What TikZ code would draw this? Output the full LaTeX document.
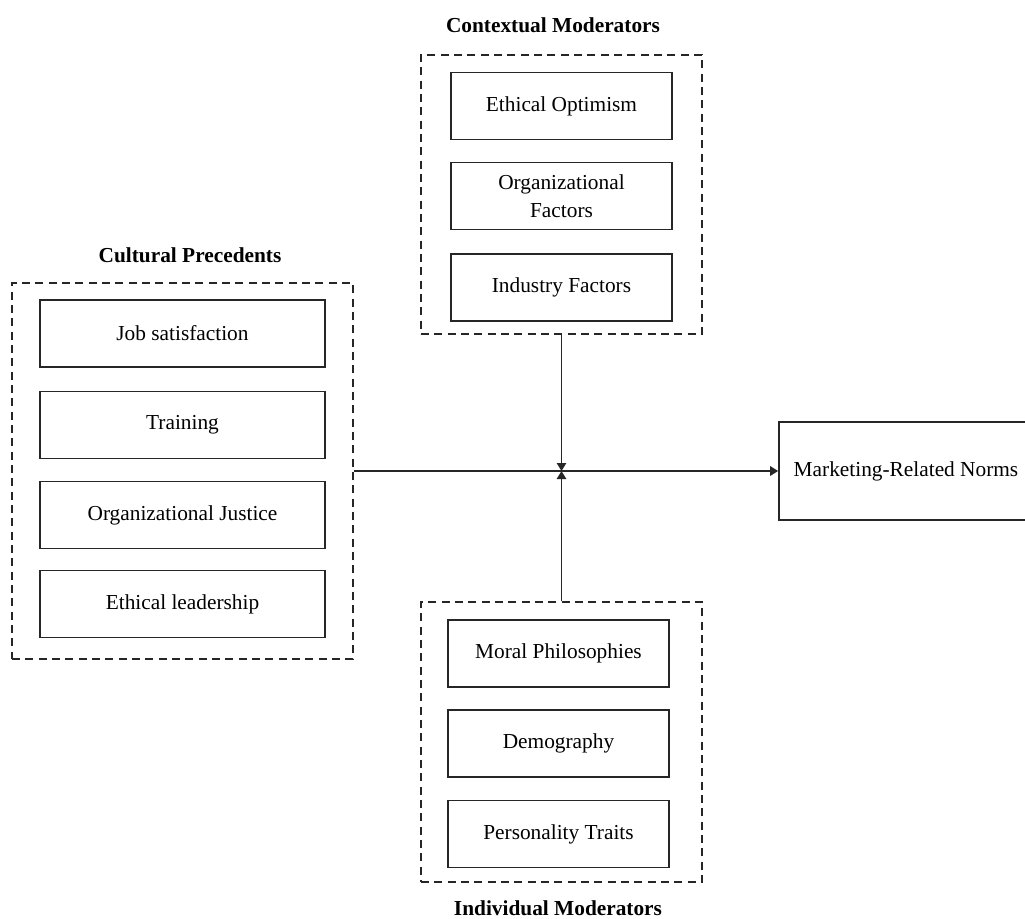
\documentclass[tikz,border=0pt]{standalone}
\usepackage{fontspec}
\setmainfont{Liberation Serif}
\usetikzlibrary{arrows.meta}
\begin{document}
\begin{tikzpicture}[x=0.75pt,y=-0.75pt,
  every node/.style={font=\fontsize{16}{21}\selectfont},
  item/.style={draw=black!85, line width=1.2pt, inner sep=0pt, align=center, minimum width=#1*0.75pt, minimum height=67*0.75pt},
  group/.style={draw=black!85, line width=1.1pt, dash pattern=on 6pt off 4pt, inner sep=0pt},
  title/.style={font=\fontsize{16}{21}\selectfont\bfseries},
  conn/.style={draw=black!85, line width=1.3pt},
  tip/.style={-{Triangle[length=6pt,width=7pt]}}
]
\useasboundingbox (0,0) rectangle (1025,918);

% Cultural precedents
\node[group, minimum width=341*0.75pt, minimum height=376*0.75pt] (cult) at (182.5,471) {};
\node[title] (tcult) at (190,255) {Cultural Precedents};
\node[item=285] (job) at (182.5,333.5) {Job satisfaction};
\node[item=285] (train) at (182.5,425) {Training};
\node[item=285] (oj) at (182.5,515) {Organizational Justice};
\node[item=285] (el) at (182.5,604) {Ethical leadership};

% Contextual moderators
\node[group, minimum width=281*0.75pt, minimum height=279*0.75pt] (ctx) at (561.5,194.5) {};
\node[title] (tctx) at (553,25) {Contextual Moderators};
\node[item=221] (eo) at (561.5,106) {Ethical Optimism};
\node[item=221] (of) at (561.5,196) {Organizational\\Factors};
\node[item=221] (ifa) at (561.5,287.5) {Industry Factors};

% Individual moderators
\node[group, minimum width=281*0.75pt, minimum height=280*0.75pt] (ind) at (561.5,742) {};
\node[title] (tind) at (558,908) {Individual Moderators};
\node[item=221] (mp) at (558.5,653.5) {Moral Philosophies};
\node[item=221] (dem) at (558.5,743.5) {Demography};
\node[item=221] (pt) at (558.5,834) {Personality Traits};

% Outcome
\node[draw=black!85, line width=1.2pt, inner sep=0pt, minimum width=254*0.75pt, minimum height=98*0.75pt] (mrn) at (906,471) {Marketing-Related Norms};

% Connectors
\coordinate (J) at (561.5,471);
\draw[conn, tip] (cult.east) -- (mrn.west);
\draw[conn, tip] (ctx.south) -- (J);
\draw[conn, tip] (ind.north) -- (J);
\end{tikzpicture}
\end{document}
